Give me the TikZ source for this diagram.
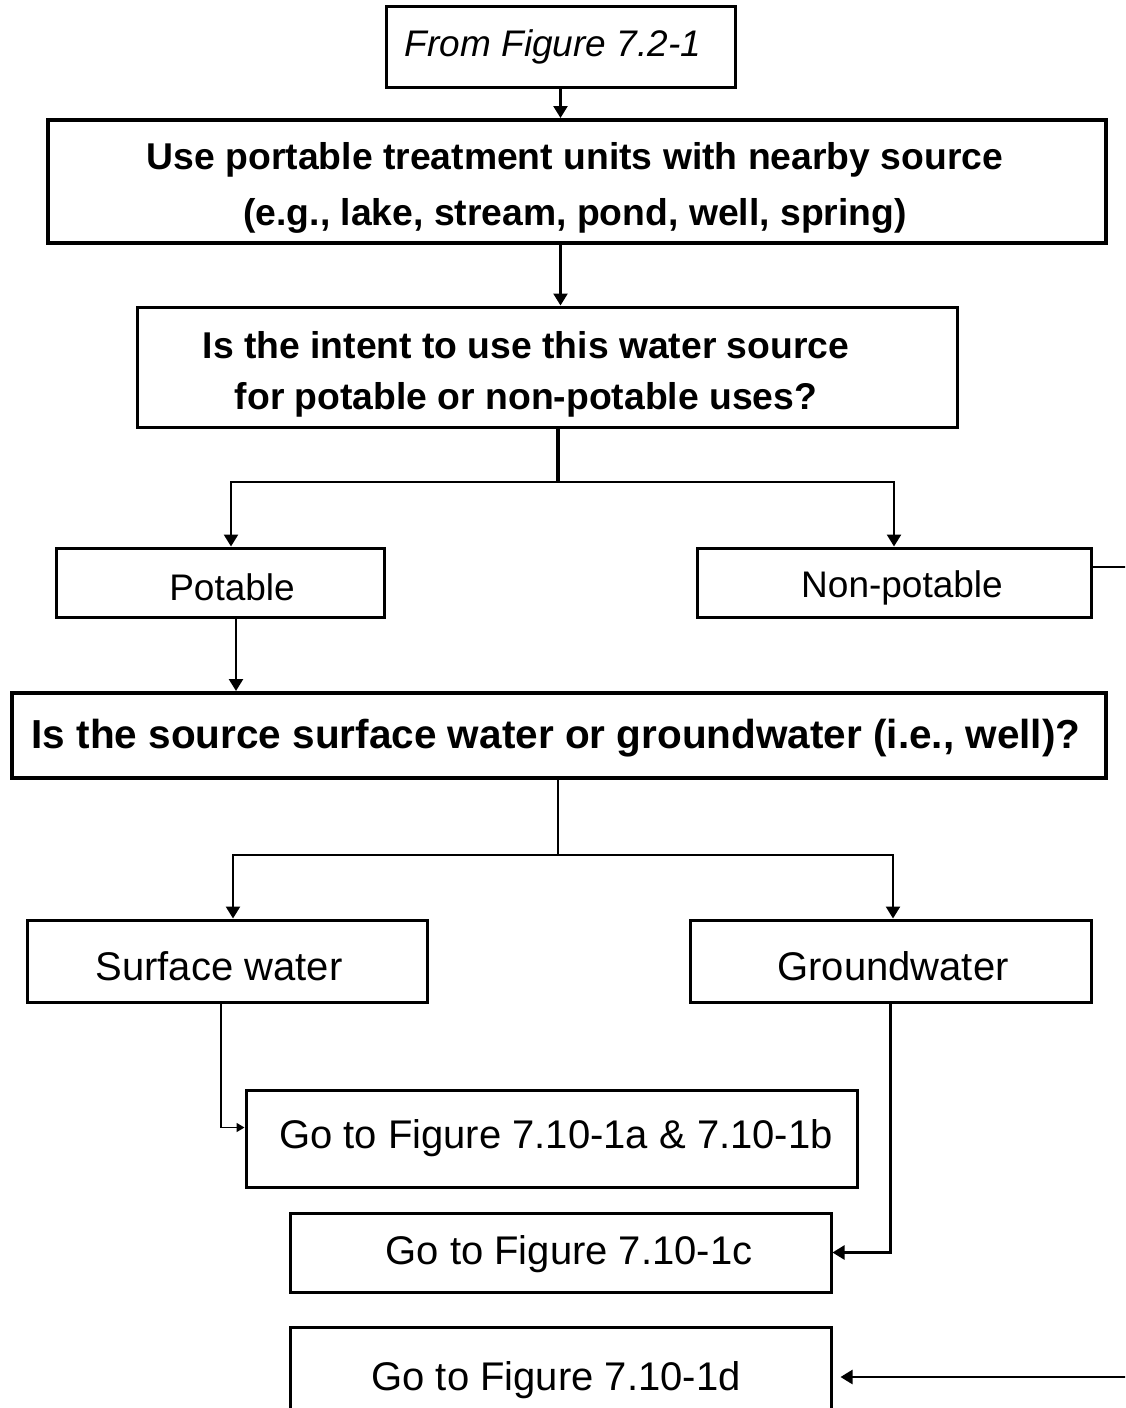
\documentclass[tikz,border=0pt]{standalone}
\usepackage{fontspec}
\setmainfont{Liberation Sans}
\usetikzlibrary{arrows.meta}

\tikzset{
  box/.style={draw, rectangle, line width=3pt, inner sep=0pt},
  bigbox/.style={box, line width=4pt},
  txt/.style={align=center, inner sep=0pt, font=\fontsize{37}{44}\selectfont},
  bigtxt/.style={txt, font=\fontsize{40}{48}\selectfont},
  boldtxt/.style={txt, font=\fontsize{37.3}{#1}\selectfont\bfseries},
  conn/.style={line width=2.5pt},
  arr/.style={conn, -{Triangle[length=12pt,width=14pt]}},
  smallarr/.style={line width=1.5pt, -{Triangle[length=8pt,width=9pt]}}
}

\begin{document}
\begin{tikzpicture}[x=1pt, y=-1pt]
  \path[use as bounding box, clip] (0,0) rectangle (1125,1408);
  \fill[white] (0,0) rectangle (1125,1408);

    \node[box, minimum width=349pt, minimum height=81pt] (fromfig) at (560.5,46.5) {};
    \node[txt] (fromfig-t) at (553,47) {\itshape From Figure 7.2-1};

    \node[bigbox, minimum width=1058pt, minimum height=123pt] (portable) at (577,181.5) {};
    \node[boldtxt=56] (portable-t) at (575,188) {Use portable treatment units with nearby source\\
      (e.g., lake, stream, pond, well, spring)};

    \node[box, minimum width=820pt, minimum height=120pt] (intent) at (547,367) {};
    \node[boldtxt=51] (intent-t) at (526,374) {Is the intent to use this water source\\
      for potable or non-potable uses?};

    \node[box, minimum width=328pt, minimum height=69pt] (potable) at (220,582.5) {};
    \node[txt] (potable-t) at (232,587) {Potable};

    \node[box, minimum width=394pt, minimum height=69pt] (nonpot) at (894,582.5) {};
    \node[txt] (nonpot-t) at (902,588) {Non-potable};

    \node[bigbox, minimum width=1094pt, minimum height=85pt] (source) at (559,735.5) {};
    \node[txt, font=\fontsize{40.5}{48}\selectfont\bfseries] (source-t) at (556,738) {Is the source
      surface water or groundwater (i.e., well)?};

    \node[box, minimum width=400pt, minimum height=82pt] (surface) at (227,961) {};
    \node[bigtxt] (surface-t) at (219,966) {Surface water};

    \node[box, minimum width=401pt, minimum height=82pt] (ground) at (890.5,961) {};
    \node[bigtxt] (ground-t) at (893,966) {Groundwater};

    \node[box, minimum width=611pt, minimum height=97pt] (goab) at (551.5,1138.5) {};
    \node[bigtxt] (goab-t) at (556,1138) {Go to Figure 7.10-1a \& 7.10-1b};

    \node[box, minimum width=541pt, minimum height=79pt] (goc) at (560.5,1252.5) {};
    \node[bigtxt] (goc-t) at (569,1254) {Go to Figure 7.10-1c};

    \node[box, minimum width=541pt, minimum height=103pt] (god) at (560.5,1378.5) {};
    \node[bigtxt] (god-t) at (556,1380) {Go to Figure 7.10-1d};

    \coordinate (split1) at (558,482);
    \coordinate (split2) at (558,855);
    \coordinate (npout) at (1135,567);
    \coordinate (npin) at (1135,1377);

    \draw[arr] (fromfig.south) -- (fromfig.south |- portable.north);
    \draw[arr] (fromfig.south |- portable.south) -- (fromfig.south |- intent.north);

    \draw[line width=4pt] (intent.south -| split1) -- (split1);
    \draw[arr] (split1) -| ([xshift=11pt]potable.north);
    \draw[arr] (split1) -| (nonpot.north);

    \draw[arr] ([xshift=16pt]potable.south) -- ([xshift=16pt]potable.south |- source.north);
    \draw[conn] (nonpot.east |- npout) -- (npout);

    \draw[conn] (source.south -| split2) -- (split2);
    \draw[arr] (split2) -| ([xshift=6pt]surface.north);
    \draw[arr] (split2) -| ([xshift=2.5pt]ground.north);

    \draw[smallarr] ([xshift=-6pt]surface.south) |- ([yshift=11pt]goab.west);
    \draw[arr] (ground.south) |- (goc.east);
    \draw[arr] (npin) -- ([xshift=8pt]god.east |- npin);

  \end{tikzpicture}
\end{document}
